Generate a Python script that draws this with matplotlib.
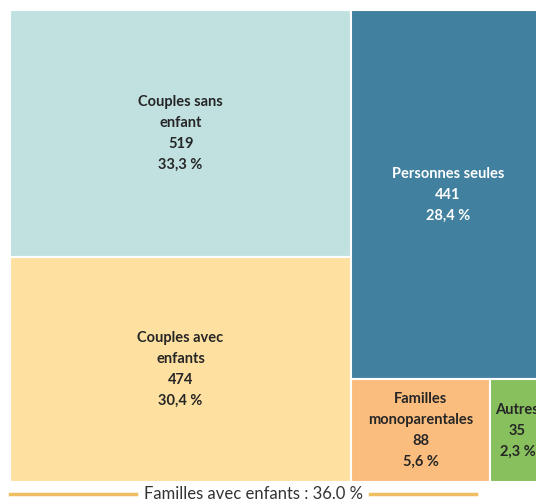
import matplotlib.pyplot as plt
from matplotlib.patches import Rectangle

labels = ['Couples sans\nenfant', 'Couples avec\nenfants', 'Personnes seules',
          'Familles\nmonoparentales', 'Autres']
values = [519, 474, 441, 88, 35]
shares = ['33,3 %', '30,4 %', '28,4 %', '5,6 %', '2,3 %']
colors = ['#C1E1E1', '#FEE0A0', '#41809E', '#FABD7E', '#88C05E']
text_colors = ['#262626', '#262626', 'white', '#262626', '#262626']
footer = 'Familles avec enfants : 36.0 %'

total = sum(values)
left = values[0] + values[1]
right = total - left
bottom_row = values[3] + values[4]

# treemap layout: left column (2 blocks stacked), right column (1 block on top, 2 side by side)
wl = left / total
wr = right / total
h_top_right = values[2] / right
rects = [
    (0, 1 - values[0] / left, wl, values[0] / left),
    (0, 0, wl, values[1] / left),
    (wl, 1 - h_top_right, wr, h_top_right),
    (wl, 0, wr * values[3] / bottom_row, 1 - h_top_right),
    (wl + wr * values[3] / bottom_row, 0, wr * values[4] / bottom_row, 1 - h_top_right),
]

fig = plt.figure(figsize=(5.36, 5.04), dpi=100)
# the chart is cut on the right side in the original
ax = fig.add_axes([10 / 536, 22 / 504, 535 / 536, 472 / 504])
ax.set_xlim(0, 1)
ax.set_ylim(0, 1)
ax.axis('off')

for (x, y, w, h), lab, v, s, c, tc in zip(rects, labels, values, shares, colors, text_colors):
    ax.add_patch(Rectangle((x, y), w, h, facecolor=c, edgecolor='white', linewidth=1.5))
    ax.text(x + w / 2, y + h / 2, f'{lab}\n{v}\n{s}', ha='center', va='center',
            fontsize=10.5, fontweight='bold', color=tc, linespacing=1.62,
            family=['Lato', 'DejaVu Sans'], clip_on=False)

fig.text(253 / 536, 1 - 494 / 504, footer, ha='center', va='center', fontsize=12,
         color='#333333', family=['Lato', 'DejaVu Sans'])
fig.add_artist(plt.Line2D([10 / 536, 136 / 536], [1 - 494 / 504] * 2, color='#F0BE62', lw=2.5))
fig.add_artist(plt.Line2D([370 / 536, 476 / 536], [1 - 494 / 504] * 2, color='#F0BE62', lw=2.5))

fig.savefig('out.png', dpi=100)
